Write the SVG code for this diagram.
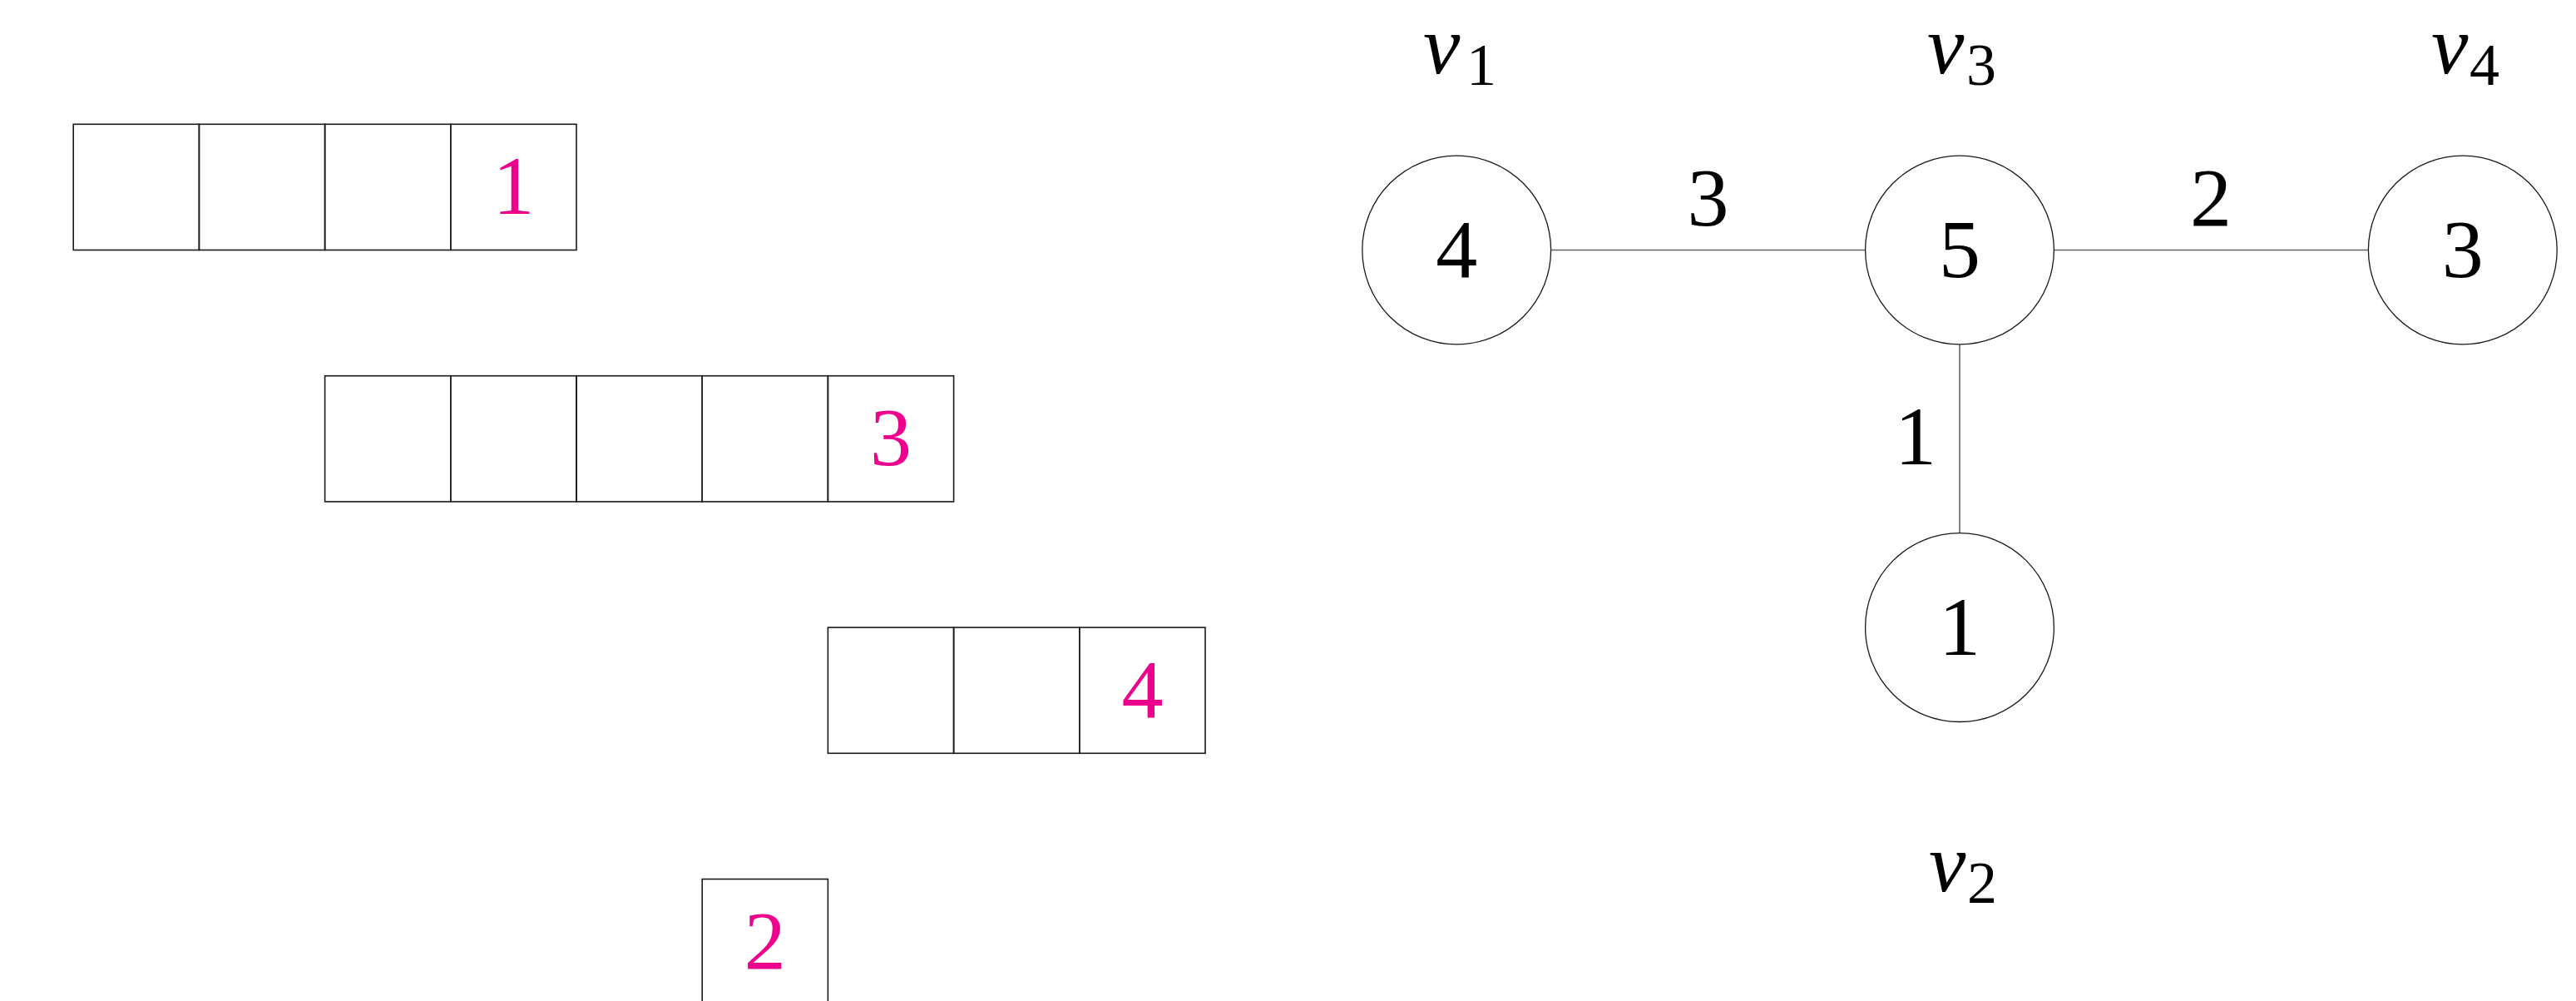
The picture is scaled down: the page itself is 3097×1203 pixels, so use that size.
<svg xmlns="http://www.w3.org/2000/svg" width="3097" height="1203" viewBox="0 0 3097 1203">
<style>
.cell{fill:none;stroke:#1a1a1a;stroke-width:1.6}
.node{fill:#fff;stroke:#1a1a1a;stroke-width:1.3}
.edge{stroke:#666;stroke-width:1.6;fill:none}
.num{font-size:100px;text-anchor:middle;fill:#000}
.pink{fill:#EC008C}
.lab{font-size:100px;font-style:italic;fill:#000}
.sub{font-style:normal;font-size:72px}
</style>
<rect width="3097" height="1203" fill="#fff"/>
<g font-family="'Liberation Serif', 'Times New Roman', 'DejaVu Serif', serif">
<g id="row1">
<rect class="cell" x="88.2" y="149.3" width="151.2" height="151.2"/>
<rect class="cell" x="239.4" y="149.3" width="151.2" height="151.2"/>
<rect class="cell" x="390.6" y="149.3" width="151.2" height="151.2"/>
<rect class="cell" x="541.8" y="149.3" width="151.2" height="151.2"/>
<text class="num pink" x="617.4" y="257">1</text>
</g>
<g id="row2">
<rect class="cell" x="390.6" y="451.7" width="151.2" height="151.2"/>
<rect class="cell" x="541.8" y="451.7" width="151.2" height="151.2"/>
<rect class="cell" x="693" y="451.7" width="151.2" height="151.2"/>
<rect class="cell" x="844.2" y="451.7" width="151.2" height="151.2"/>
<rect class="cell" x="995.4" y="451.7" width="151.2" height="151.2"/>
<text class="num pink" x="1071" y="559">3</text>
</g>
<g id="row3">
<rect class="cell" x="995.4" y="754.1" width="151.2" height="151.2"/>
<rect class="cell" x="1146.6" y="754.1" width="151.2" height="151.2"/>
<rect class="cell" x="1297.8" y="754.1" width="151.2" height="151.2"/>
<text class="num pink" x="1373.4" y="862">4</text>
</g>
<g id="row4">
<rect class="cell" x="844.2" y="1056.5" width="151.2" height="151.2"/>
<text class="num pink" x="919.8" y="1164">2</text>
</g>
<g id="edges">
<line class="edge" x1="1864.6" y1="300.5" x2="2242.6" y2="300.5"/>
<line class="edge" x1="2469.4" y1="300.5" x2="2847.4" y2="300.5"/>
<line class="edge" x1="2356" y1="413.9" x2="2356" y2="640.7"/>
<text class="num" x="2053.5" y="271">3</text>
<text class="num" x="2658" y="271">2</text>
<text class="num" x="2303" y="558">1</text>
</g>
<g id="v1">
<circle class="node" cx="1751.2" cy="300.5" r="113.4"/>
<text class="num" x="1751.2" y="332.5">4</text>
<text class="lab" x="1711" y="88">v<tspan class="sub" x="1763" y="102">1</tspan></text>
</g>
<g id="v3">
<circle class="node" cx="2356" cy="300.5" r="113.4"/>
<text class="num" x="2356" y="332.5">5</text>
<text class="lab" x="2317" y="88">v<tspan class="sub" x="2364" y="102">3</tspan></text>
</g>
<g id="v4">
<circle class="node" cx="2960.8" cy="300.5" r="113.4"/>
<text class="num" x="2960.8" y="332.5">3</text>
<text class="lab" x="2923" y="88">v<tspan class="sub" x="2969" y="102">4</tspan></text>
</g>
<g id="v2">
<circle class="node" cx="2356" cy="754.1" r="113.4"/>
<text class="num" x="2356" y="786.5">1</text>
<text class="lab" x="2319" y="1071">v<tspan class="sub" x="2365" y="1085">2</tspan></text>
</g>
</g>
</svg>
